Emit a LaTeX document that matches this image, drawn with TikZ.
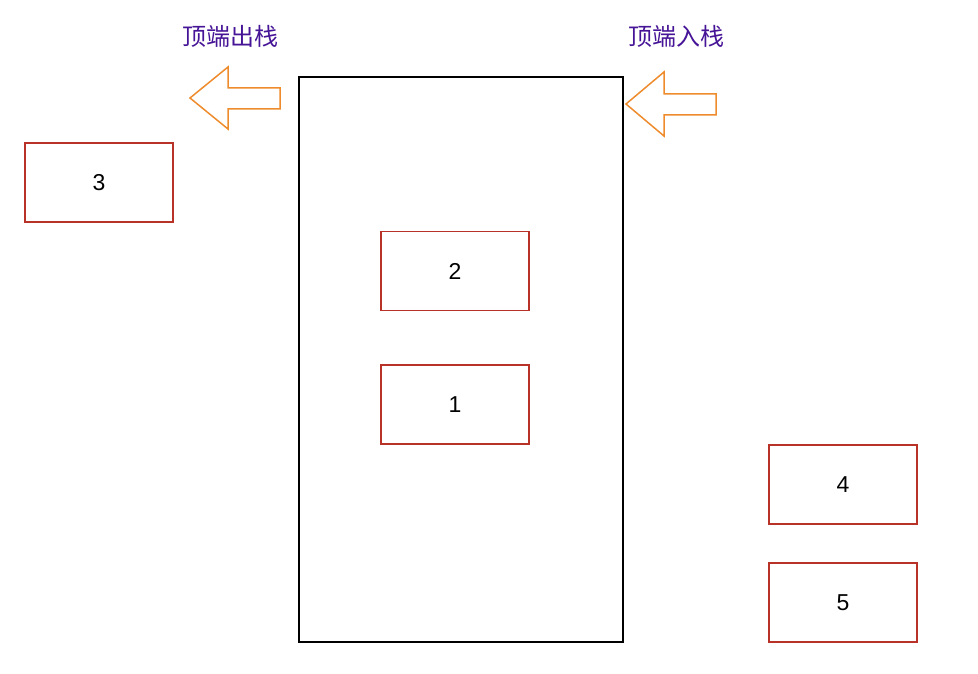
\documentclass[tikz,border=0pt]{standalone}
\usepackage{fontspec}
\setmainfont{Liberation Sans}
\newfontfamily\cjk{Noto Sans CJK SC}
\usepackage{tikz}

\definecolor{boxred}{RGB}{184,50,40}
\definecolor{arroworange}{RGB}{238,140,45}
\definecolor{labelpurple}{RGB}{70,20,150}

\begin{document}
\begin{tikzpicture}[x=1pt, y=-1pt, line width=1.5pt, font=\fontsize{23}{25}\selectfont]
    \useasboundingbox (0,0) rectangle (978,674);
    \tikzset{item/.style={rectangle, draw=boxred, minimum width=148pt, minimum height=79pt, inner sep=0pt}}

    % Stack
    \node(100) at (461,359.5) [rectangle, draw=black, minimum width=324pt, minimum height=565pt] {};
    \node(101) at (455,271) [item] {2};
    \node(102) at (455,404.5) [item] {1};

    % Popped
    \node(201) at (99,182.5) [item] {3};
    \node(202) at (230,36) [text=labelpurple, font=\cjk\fontsize{24}{26}\selectfont] {顶端出栈};
    \draw [arroworange, line join=miter] (190,98) -- (228,67) -- (228,88) -- (280,88) -- (280,109) -- (228,109) -- (228,129) -- cycle;

    % Pushed
    \node(301) at (843,484.5) [item] {4};
    \node(302) at (843,602.5) [item] {5};
    \node(303) at (676,36) [text=labelpurple, font=\cjk\fontsize{24}{26}\selectfont] {顶端入栈};
    \draw [arroworange, line join=miter] (626,104) -- (664,72) -- (664,94) -- (716,94) -- (716,115) -- (664,115) -- (664,136) -- cycle;

\end{tikzpicture}
\end{document}
